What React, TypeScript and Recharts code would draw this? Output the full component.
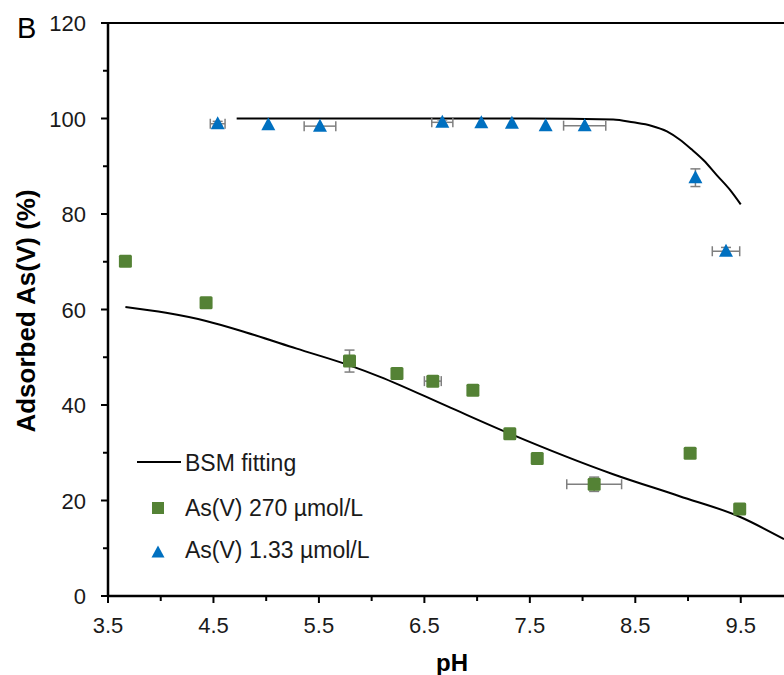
import {
  ComposedChart,
  Line,
  Scatter,
  XAxis,
  YAxis,
  ErrorBar,
  ReferenceLine,
  Legend,
} from "recharts";

const FONT = "'Liberation Sans', Arial, Helvetica, sans-serif";

// As(V) 1.33 µmol/L (blue triangles)
const lowPH = [4.54, 5.02, 5.51, 6.67, 7.04, 7.33, 7.65, 8.02, 9.07, 9.36];
const lowAds = [98.9, 98.7, 98.4, 99.2, 99.1, 99.0, 98.5, 98.5, 87.6, 72.2];
const lowPHErr = [0.07, null, 0.15, 0.1, null, null, null, 0.2, null, 0.13];
const lowAdsErr = [0.5, null, null, 0.5, null, null, null, null, 1.85, 0.8];

// As(V) 270 µmol/L (green squares)
const highPH = [3.665, 4.43, 5.79, 6.24, 6.58, 6.96, 7.31, 7.57, 8.11, 9.02, 9.49];
const highAds = [70.1, 61.4, 49.2, 46.6, 45.0, 43.1, 34.0, 28.8, 23.4, 29.9, 18.2];
const highPHErr = [null, null, null, null, 0.08, null, null, 0.04, 0.26, null, null];
const highAdsErr = [null, null, 2.3, null, null, null, null, 0.8, 1.5, 0.8, null];

// BSM fitting curves
const fitLowPH = [4.72, 5.5, 6.5, 7.5, 8.29, 8.48, 8.65, 8.8, 8.92, 9.03, 9.15, 9.27, 9.4, 9.5];
const fitLowAds = [100, 100, 100, 100, 99.8, 99.2, 98.5, 97.3, 95.6, 93.6, 91.2, 88.2, 85.0, 82.0];
const fitHighPH = [3.665, 4.05, 4.43, 4.81, 5.29, 5.79, 6.08, 6.71, 7.31, 8.29, 8.92, 9.49, 9.91];
const fitHighAds = [60.5, 59.3, 57.6, 55.2, 51.8, 48.3, 45.9, 39.8, 34.0, 25.5, 20.9, 16.6, 11.9];

const xTicks = [3.5, 4, 4.5, 5, 5.5, 6, 6.5, 7, 7.5, 8, 8.5, 9, 9.5];
const yTicks = [0, 10, 20, 30, 40, 50, 60, 70, 80, 90, 100, 110, 120];

const lowData = lowPH.map((x, i) => ({ x, y: lowAds[i], ex: lowPHErr[i], ey: lowAdsErr[i] }));
const highData = highPH.map((x, i) => ({ x, y: highAds[i], ex: highPHErr[i], ey: highAdsErr[i] }));
const fitLow = fitLowPH.map((x, i) => ({ x, y: fitLowAds[i] }));
const fitHigh = fitHighPH.map((x, i) => ({ x, y: fitHighAds[i] }));

const GREEN = "#548235";
const BLUE = "#0070C0";
const ERR = "#7f7f7f";

// plot box edges (left axis x, bottom axis y)
const AXIS_X = 108;
const AXIS_Y = 596;

const XTick = (props: any) => {
  const { x, payload } = props;
  const v = payload.value;
  const major = Math.abs(((v - 3.5) % 1 + 1) % 1) < 1e-6;
  return (
    <g>
      <line x1={x} x2={x} y1={AXIS_Y} y2={AXIS_Y + (major ? 7 : 5)} stroke="#000" strokeWidth={2} />
      {major && (
        <text x={x} y={AXIS_Y + 37} textAnchor="middle" fontSize={22} fill="#1a1a1a" fontFamily={FONT}>
          {v.toFixed(1)}
        </text>
      )}
    </g>
  );
};

const YTick = (props: any) => {
  const { y, payload } = props;
  const v = payload.value;
  const major = v % 20 === 0;
  return (
    <g>
      <line x1={AXIS_X - (major ? 7 : 5)} x2={AXIS_X} y1={y} y2={y} stroke="#000" strokeWidth={2} />
      {major && (
        <text x={AXIS_X - 22} y={y + 8} textAnchor="end" fontSize={22} fill="#1a1a1a" fontFamily={FONT}>
          {v}
        </text>
      )}
    </g>
  );
};

const YTitle = () => (
  <text
    x={35}
    y={311}
    transform="rotate(-90 35 311)"
    textAnchor="middle"
    fontSize={26}
    fontWeight="bold"
    fill="#000"
    fontFamily={FONT}
  >
    Adsorbed As(V) (%)
  </text>
);

const XTitle = () => (
  <text x={452} y={671} textAnchor="middle" fontSize={24} fontWeight="bold" fill="#000" fontFamily={FONT}>
    pH
  </text>
);

const Square = (props: any) => {
  const { cx, cy } = props;
  return <rect x={cx - 6.5} y={cy - 6.5} width={13} height={13} rx={1.5} fill={GREEN} />;
};

const Triangle = (props: any) => {
  const { cx, cy } = props;
  return <polygon points={`${cx},${cy - 7.5} ${cx + 7},${cy + 5.5} ${cx - 7},${cy + 5.5}`} fill={BLUE} />;
};

const renderLegend = () => (
  <svg width={330} height={125} style={{ display: "block" }}>
    <line x1={17} x2={61} y1={22} y2={22} stroke="#000" strokeWidth={2} />
    <text x={65} y={30.5} fontSize={23} fill="#1a1a1a" fontFamily={FONT}>
      BSM fitting
    </text>
    <rect x={32} y={62} width={12} height={12} fill={GREEN} />
    <text x={65} y={76} fontSize={23} fill="#1a1a1a" fontFamily={FONT}>
      As(V) 270 µmol/L
    </text>
    <polygon points="38,105.5 44.5,117.5 31.5,117.5" fill={BLUE} />
    <text x={65} y={118} fontSize={23} fill="#1a1a1a" fontFamily={FONT}>
      As(V) 1.33 µmol/L
    </text>
  </svg>
);

export default function App() {
  return (
    <div style={{ position: "absolute", left: 0, top: 0, width: 784, height: 675, background: "#fff" }}>
      <div
        style={{
          position: "absolute",
          left: 17,
          top: 14,
          fontSize: 29,
          lineHeight: "29px",
          fontFamily: FONT,
          color: "#000",
        }}
      >
        B
      </div>
      <ComposedChart width={784} height={675} margin={{ top: 23, right: 0, bottom: 0, left: 0 }}>
        <XAxis
          type="number"
          dataKey="x"
          domain={[3.5, 9.91]}
          allowDataOverflow
          ticks={xTicks}
          interval={0}
          height={79}
          tickSize={0}
          tickMargin={0}
          tickLine={false}
          tick={<XTick />}
          axisLine={{ stroke: "#000", strokeWidth: 2.5 }}
          label={<XTitle />}
        />
        <YAxis
          type="number"
          dataKey="y"
          domain={[0, 120]}
          ticks={yTicks}
          interval={0}
          width={AXIS_X}
          tickSize={0}
          tickMargin={0}
          tickLine={false}
          tick={<YTick />}
          axisLine={{ stroke: "#000", strokeWidth: 2.5 }}
          label={<YTitle />}
        />
        <ReferenceLine y={120} stroke="#000" strokeWidth={2} />
        <Line
          data={fitHigh}
          dataKey="y"
          type="monotone"
          stroke="#000"
          strokeWidth={2}
          dot={false}
          activeDot={false}
          isAnimationActive={false}
          name="BSM fitting"
        />
        <Line
          data={fitLow}
          dataKey="y"
          type="monotone"
          stroke="#000"
          strokeWidth={2}
          dot={false}
          activeDot={false}
          isAnimationActive={false}
          legendType="none"
        />
        <Scatter data={highData} dataKey="y" shape={<Square />} isAnimationActive={false} name="As(V) 270 µmol/L">
          <ErrorBar dataKey="ex" direction="x" width={5} stroke={ERR} strokeWidth={1.5} />
          <ErrorBar dataKey="ey" direction="y" width={5} stroke={ERR} strokeWidth={1.5} />
        </Scatter>
        <Scatter data={lowData} dataKey="y" shape={<Triangle />} isAnimationActive={false} name="As(V) 1.33 µmol/L">
          <ErrorBar dataKey="ex" direction="x" width={5} stroke={ERR} strokeWidth={1.5} />
          <ErrorBar dataKey="ey" direction="y" width={5} stroke={ERR} strokeWidth={1.5} />
        </Scatter>
        <Legend
          layout="vertical"
          align="center"
          verticalAlign="middle"
          wrapperStyle={{ left: 120, top: 440, width: 330, height: 125 }}
          content={renderLegend}
        />
      </ComposedChart>
    </div>
  );
}
